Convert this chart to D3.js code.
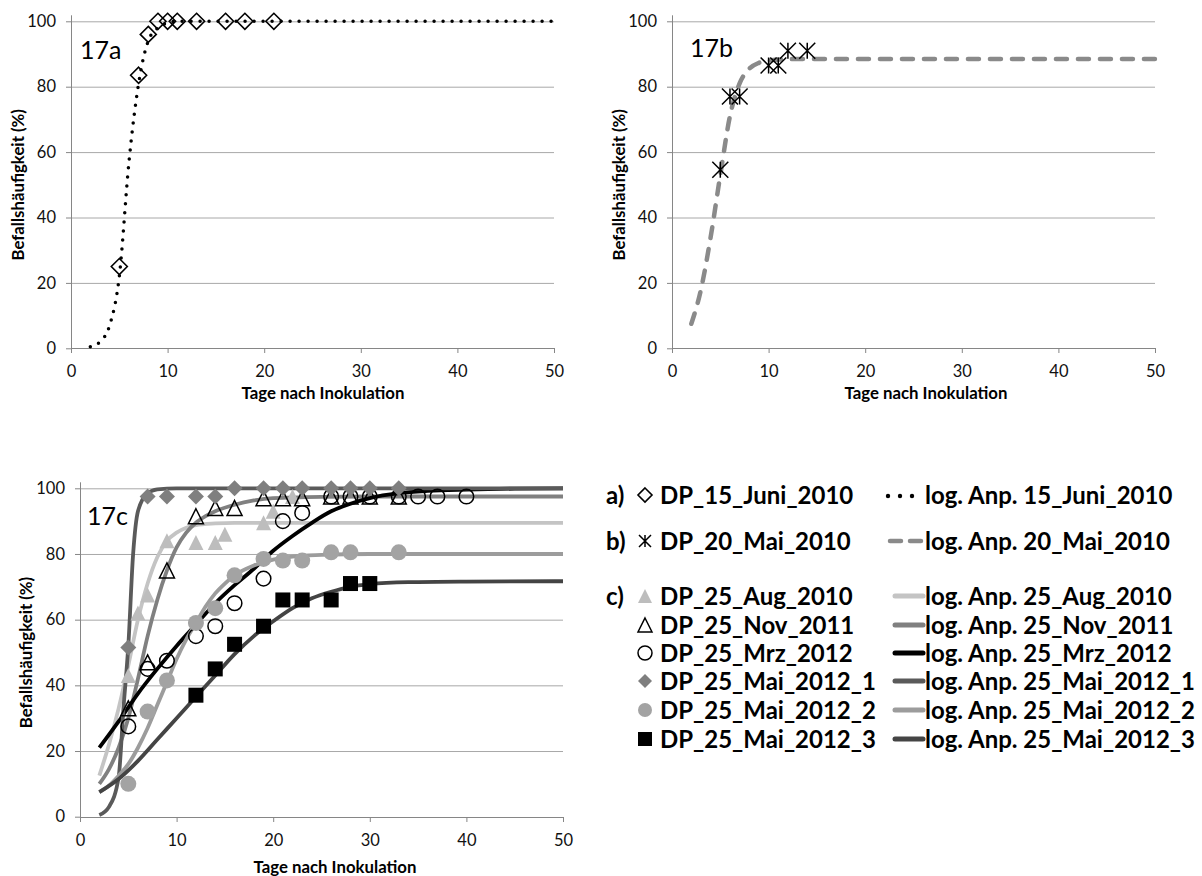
<!DOCTYPE html>
<html>
<head>
<meta charset="utf-8">
<script src="https://cdn.jsdelivr.net/npm/d3@7"></script>
<style>
  html, body { margin: 0; padding: 0; background: #fff; }
  svg { display: block; font-family: Lato, "Open Sans", "Noto Sans", sans-serif; }
</style>
</head>
<body>
<svg id="fig" width="1202" height="876"></svg>
<script>
// ---------- shared axis settings ----------
const xTickValues = [0, 10, 20, 30, 40, 50];
const yTickValues = [0, 20, 40, 60, 80, 100];
const xTitle = "Tage nach Inokulation";
const yTitle = "Befallshäufigkeit (%)";

// ---------- 17a: DP_15_Juni_2010 ----------
const juniDays = [5, 7, 8, 9, 10, 11, 13, 16, 18, 21];
const juniVals = [25, 83.5, 96, 100, 100, 100, 100, 100, 100, 100];
const juniFitDays = [2, 3, 4, 5, 6, 7, 8, 9, 10, 11, 12, 50];
const juniFitVals = [0.5, 2, 7, 22, 57, 81, 94, 98, 99.5, 100, 100, 100];

// ---------- 17b: DP_20_Mai_2010 ----------
const maiDays = [5, 6, 7, 10, 11, 12, 14];
const maiVals = [54.6, 77, 77, 86.5, 86.5, 91, 91];
const maiFitDays = [2, 3, 4, 5, 6, 7, 8, 9, 10, 12, 14, 50];
const maiFitVals = [7.5, 18, 34, 53, 71, 81, 85.5, 87.3, 88, 88.4, 88.5, 88.5];

// ---------- 17c ----------
const augDays = [5, 6, 7, 9, 12, 14, 15, 19, 20, 22];
const augVals = [43, 62, 67.5, 84, 83.5, 83.5, 86, 89.5, 93, 97.5];
const augFitDays = [2, 3, 4, 5, 6, 7, 8, 9, 10, 11, 12, 14, 16, 20, 50];
const augFitVals = [12.5, 22, 33, 46, 60, 71, 79, 84, 86.5, 88, 88.8, 89.3, 89.5, 89.5, 89.5];

const novDays = [5, 7, 9, 12, 14, 16, 19, 21, 23, 26, 28, 30, 33];
const novVals = [33, 47, 75, 91.5, 94, 94, 97, 97, 97, 97.5, 97.5, 97.5, 97.5];
const novFitDays = [2, 3, 4, 5, 6, 7, 8, 9, 10, 11, 12, 13, 14, 16, 18, 20, 25, 30, 50];
const novFitVals = [10, 14.5, 21, 30, 42, 55, 66, 75, 82, 86.5, 89.5, 91.5, 93, 95, 96.3, 97, 97.4, 97.5, 97.5];

const mrzDays = [5, 7, 9, 12, 14, 16, 19, 21, 23, 26, 28, 30, 33, 35, 37, 40];
const mrzVals = [27.5, 45, 47.5, 55, 58, 65, 72.5, 90, 92.5, 97.5, 97.5, 97.5, 97.5, 97.5, 97.5, 97.5];
const mrzFitDays = [2, 4, 6, 8, 10, 12, 14, 16, 18, 20, 22, 24, 26, 28, 30, 33, 36, 40, 45, 50];
const mrzFitVals = [21, 29, 37.5, 45, 52, 58.5, 65, 70.5, 75.5, 81, 85.5, 89.5, 93, 95.3, 97, 98.5, 99.2, 99.6, 99.9, 100];

const mai1Days = [5, 7, 9, 12, 14, 16, 19, 21, 23, 26, 28, 30, 33];
const mai1Vals = [51.5, 97.5, 97.5, 97.5, 97.5, 100, 100, 100, 100, 100, 100, 100, 100];
const mai1FitDays = [2, 3, 4, 4.5, 5, 5.5, 6, 7, 8, 10, 50];
const mai1FitVals = [0.5, 3, 12, 33, 52, 80, 93, 98.5, 99.7, 100, 100];

const mai2Days = [5, 7, 9, 12, 14, 16, 19, 21, 23, 26, 28, 33];
const mai2Vals = [10, 32, 41.5, 59, 63.5, 73.5, 78.5, 78, 78, 80.5, 80.5, 80.5];
const mai2FitDays = [2, 3, 4, 5, 6, 7, 8, 9, 10, 11, 12, 13, 14, 15, 16, 18, 20, 22, 25, 30, 50];
const mai2FitVals = [7.5, 9.5, 12.5, 16, 21, 27, 34, 41, 48, 54, 59, 64, 68, 71, 73.5, 76.5, 78.3, 79.2, 79.7, 80, 80];

const mai3Days = [12, 14, 16, 19, 21, 23, 26, 28, 30];
const mai3Vals = [37, 45, 52.5, 58, 66, 66, 66, 71, 71];
const mai3FitDays = [2, 4, 6, 8, 10, 12, 14, 16, 18, 20, 22, 24, 26, 28, 30, 34, 40, 50];
const mai3FitVals = [7.5, 11.5, 17, 23.5, 30, 36.5, 43, 49.5, 55, 59.5, 63.5, 66.5, 68.5, 70, 70.8, 71.4, 71.6, 71.7];

// ---------- legend texts ----------
const legendGroups = ["a)", "b)", "c)"];
const legendPointLabels = ["DP_15_Juni_2010", "DP_20_Mai_2010", "DP_25_Aug_2010", "DP_25_Nov_2011",
  "DP_25_Mrz_2012", "DP_25_Mai_2012_1", "DP_25_Mai_2012_2", "DP_25_Mai_2012_3"];
const legendFitLabels = ["log. Anp. 15_Juni_2010", "log. Anp. 20_Mai_2010", "log. Anp. 25_Aug_2010",
  "log. Anp. 25_Nov_2011", "log. Anp. 25_Mrz_2012", "log. Anp. 25_Mai_2012_1",
  "log. Anp. 25_Mai_2012_2", "log. Anp. 25_Mai_2012_3"];

// ================= drawing =================
const svg = d3.select("#fig");
const AXIS = "#868686";
const GRID = "#a8a8a8";

function markerPath(type, r) {
  switch (type) {
    case "diamond": return `M0,${-r}L${r},0L0,${r}L${-r},0Z`;
    case "triangle": return `M0,${-r}L${r},${r}L${-r},${r}Z`;
    case "square": return `M${-r},${-r}H${r}V${r}H${-r}Z`;
    case "circle": return `M${r},0A${r},${r} 0 1,1 ${-r},0A${r},${r} 0 1,1 ${r},0Z`;
    case "asterisk": return `M${-r},${-r}L${r},${r}M${r},${-r}L${-r},${r}M0,${-r}L0,${r}`;
  }
}

function fitFont(sel, target) {
  const node = sel.node();
  const size = parseFloat(sel.attr("font-size"));
  const w = node.getComputedTextLength();
  sel.attr("font-size", (size * target / w).toFixed(2));
  return size * target / w;
}

let titleSize = null;

function makePanel(p) {
  const g = svg.append("g");
  const x = d3.scaleLinear().domain([0, 50]).range([p.left, p.right]);
  const y = d3.scaleLinear().domain([0, 100]).range([p.bottom, p.top]);

  // horizontal gridlines
  g.append("g").selectAll("line")
    .data(yTickValues.filter(v => v > 0))
    .join("line")
    .attr("x1", p.left).attr("x2", p.right)
    .attr("y1", d => y(d) + 0.5).attr("y2", d => y(d) + 0.5)
    .attr("stroke", GRID).attr("stroke-width", 1);

  // x axis
  const xa = g.append("g")
    .attr("transform", `translate(0,${Math.round(p.bottom)})`)
    .call(d3.axisBottom(x).tickValues(xTickValues).tickSize(5).tickSizeOuter(0).tickPadding(12));
  // y axis
  const ya = g.append("g")
    .attr("transform", `translate(${Math.round(p.left)},0)`)
    .call(d3.axisLeft(y).tickValues(yTickValues).tickSize(5).tickSizeOuter(0).tickPadding(10));
  ya.select(".domain").remove();
  g.append("line")
    .attr("x1", Math.round(p.left) + 0.5).attr("x2", Math.round(p.left) + 0.5)
    .attr("y1", p.top - 6).attr("y2", Math.round(p.bottom) + 0.5)
    .attr("stroke", AXIS);

  for (const a of [xa, ya]) {
    a.selectAll(".domain").attr("stroke", AXIS);
    a.selectAll(".tick line").attr("stroke", AXIS);
    a.selectAll(".tick text")
      .attr("fill", "#111")
      .attr("font-size", 16.5)
      .attr("font-family", "Lato, 'Open Sans', sans-serif");
  }

  // axis titles
  const xt = g.append("text")
    .attr("x", p.xTitleX).attr("y", p.xTitleY)
    .attr("text-anchor", "middle")
    .attr("font-weight", "bold").attr("font-size", 16)
    .text(xTitle);
  if (titleSize === null) titleSize = fitFont(xt, 163);
  xt.attr("font-size", titleSize.toFixed(2));

  g.append("text")
    .attr("transform", `translate(${p.yTitleX},${(p.top + p.bottom) / 2}) rotate(-90)`)
    .attr("text-anchor", "middle")
    .attr("font-weight", "bold").attr("font-size", titleSize.toFixed(2))
    .text(yTitle);

  // panel tag
  g.append("text")
    .attr("x", p.tagX).attr("y", p.tagY)
    .attr("font-size", 25)
    .text(p.tag);

  return { g, x, y };
}

const lineGen = (x, y) => d3.line()
  .x(d => x(d[0])).y(d => y(d[1]))
  .curve(d3.curveMonotoneX);

// ---------- 17a ----------
{
  const { g, x, y } = makePanel({
    left: 71, right: 554, top: 21.3, bottom: 348.3,
    tag: "17a", tagX: 80, tagY: 59,
    xTitleX: 323, xTitleY: 399, yTitleX: 24
  });
  g.append("path")
    .datum(d3.zip(juniFitDays, juniFitVals))
    .attr("d", lineGen(x, y))
    .attr("fill", "none").attr("stroke", "#000")
    .attr("stroke-width", 3.5).attr("stroke-linecap", "round")
    .attr("stroke-dasharray", "0 9");
  g.append("g").selectAll("path")
    .data(d3.zip(juniDays, juniVals))
    .join("path")
    .attr("transform", d => `translate(${x(d[0])},${y(d[1])})`)
    .attr("d", markerPath("diamond", 8))
    .attr("fill", "none").attr("stroke", "#000").attr("stroke-width", 1.6);
}

// ---------- 17b ----------
{
  const { g, x, y } = makePanel({
    left: 672, right: 1155, top: 21.3, bottom: 348.3,
    tag: "17b", tagX: 690, tagY: 57,
    xTitleX: 926, xTitleY: 399, yTitleX: 625
  });
  g.append("path")
    .datum(d3.zip(maiFitDays, maiFitVals))
    .attr("d", lineGen(x, y))
    .attr("fill", "none").attr("stroke", "#8a8a8a")
    .attr("stroke-width", 4.5).attr("stroke-linecap", "round")
    .attr("stroke-dasharray", "11 11");
  g.append("g").selectAll("path")
    .data(d3.zip(maiDays, maiVals))
    .join("path")
    .attr("transform", d => `translate(${x(d[0])},${y(d[1])})`)
    .attr("d", markerPath("asterisk", 8))
    .attr("fill", "none").attr("stroke", "#000").attr("stroke-width", 1.5);
}

// ---------- 17c ----------
const cSeries = [
  { days: augDays, vals: augVals, fitDays: augFitDays, fitVals: augFitVals,
    marker: "triangle", r: 7.5, fill: "#bdbdbd", stroke: "none", line: "#c4c4c4" },
  { days: novDays, vals: novVals, fitDays: novFitDays, fitVals: novFitVals,
    marker: "triangle", r: 7.5, fill: "none", stroke: "#000", line: "#808080" },
  { days: mrzDays, vals: mrzVals, fitDays: mrzFitDays, fitVals: mrzFitVals,
    marker: "circle", r: 7.3, fill: "none", stroke: "#000", line: "#000" },
  { days: mai1Days, vals: mai1Vals, fitDays: mai1FitDays, fitVals: mai1FitVals,
    marker: "diamond", r: 8, fill: "#7f7f7f", stroke: "none", line: "#5a5a5a" },
  { days: mai2Days, vals: mai2Vals, fitDays: mai2FitDays, fitVals: mai2FitVals,
    marker: "circle", r: 8, fill: "#a3a3a3", stroke: "none", line: "#9c9c9c" },
  { days: mai3Days, vals: mai3Vals, fitDays: mai3FitDays, fitVals: mai3FitVals,
    marker: "square", r: 7.5, fill: "#000", stroke: "none", line: "#444" }
];

{
  const { g, x, y } = makePanel({
    left: 80, right: 563, top: 488.3, bottom: 816.7,
    tag: "17c", tagX: 87, tagY: 525,
    xTitleX: 335, xTitleY: 873, yTitleX: 32
  });
  for (const s of cSeries) {
    g.append("path")
      .datum(d3.zip(s.fitDays, s.fitVals))
      .attr("d", lineGen(x, y))
      .attr("fill", "none").attr("stroke", s.line)
      .attr("stroke-width", 3.8).attr("stroke-linejoin", "round");
  }
  for (const s of cSeries) {
    g.append("g").selectAll("path")
      .data(d3.zip(s.days, s.vals))
      .join("path")
      .attr("transform", d => `translate(${x(d[0])},${y(d[1])})`)
      .attr("d", markerPath(s.marker, s.r))
      .attr("fill", s.fill).attr("stroke", s.stroke).attr("stroke-width", 1.5);
  }
}

// ---------- legend ----------
{
  const lg = svg.append("g").attr("font-weight", "bold");
  const rowY = [495, 541, 596, 625, 653, 681, 710, 739];
  const tagX = 606, markX = 645, textX = 660, sampleX0 = 895, sampleX1 = 923, fitTextX = 925;

  // font size from the widest fit label
  const probe = lg.append("text").attr("font-size", 23).text(legendFitLabels[5]);
  const fs = fitFont(probe, 270);
  probe.remove();
  const capHalf = fs * 0.36;

  legendGroups.forEach((t, i) => {
    lg.append("text").attr("x", tagX).attr("y", rowY[i] + capHalf)
      .attr("font-size", fs).text(t);
  });
  legendPointLabels.forEach((t, i) => {
    lg.append("text").attr("x", textX).attr("y", rowY[i] + capHalf)
      .attr("font-size", fs).text(t);
  });
  legendFitLabels.forEach((t, i) => {
    lg.append("text").attr("x", fitTextX).attr("y", rowY[i] + capHalf)
      .attr("font-size", fs).text(t);
  });

  // point symbols
  lg.append("path").attr("transform", `translate(${markX},${rowY[0]})`)
    .attr("d", markerPath("diamond", 7)).attr("fill", "none").attr("stroke", "#000").attr("stroke-width", 1.6);
  lg.append("path").attr("transform", `translate(${markX},${rowY[1]})`)
    .attr("d", markerPath("asterisk", 6)).attr("fill", "none").attr("stroke", "#000").attr("stroke-width", 1.5);
  cSeries.forEach((s, i) => {
    lg.append("path").attr("transform", `translate(${markX},${rowY[i + 2]})`)
      .attr("d", markerPath(s.marker, 7))
      .attr("fill", s.fill).attr("stroke", s.stroke).attr("stroke-width", 1.5);
  });

  // line samples
  [888, 900, 912].forEach(cx => {
    lg.append("circle").attr("cx", cx).attr("cy", rowY[0] + 1).attr("r", 2.2).attr("fill", "#000");
  });
  lg.append("line").attr("x1", 890).attr("x2", 921).attr("y1", rowY[1]).attr("y2", rowY[1])
    .attr("stroke", "#8a8a8a").attr("stroke-width", 4.5).attr("stroke-linecap", "round")
    .attr("stroke-dasharray", "11 9");
  cSeries.forEach((s, i) => {
    lg.append("line").attr("x1", sampleX0).attr("x2", sampleX1)
      .attr("y1", rowY[i + 2]).attr("y2", rowY[i + 2])
      .attr("stroke", s.line).attr("stroke-width", 5).attr("stroke-linecap", "round");
  });
}
</script>
</body>
</html>
